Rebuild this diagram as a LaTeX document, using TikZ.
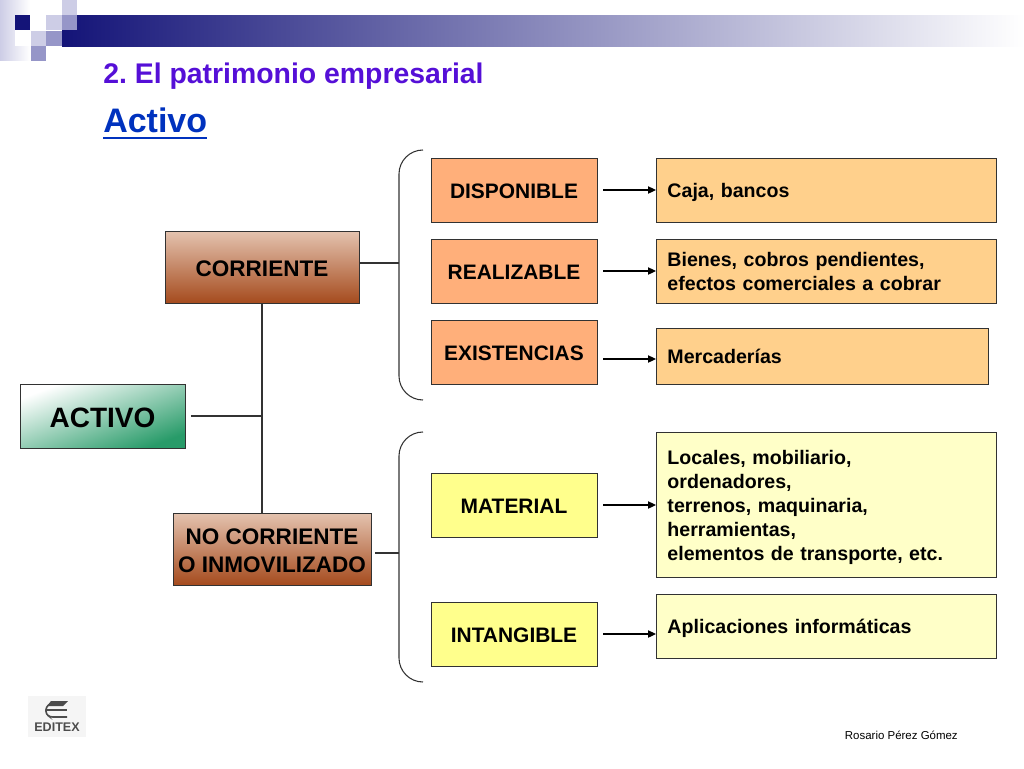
\documentclass[tikz,border=0pt]{standalone}
\usepackage{fontspec}
\setmainfont{Liberation Sans}
\usetikzlibrary{calc,arrows.meta}
\frenchspacing
\definecolor{bandnavy}{RGB}{20,20,120}
\definecolor{sqmid}{RGB}{150,150,200}
\definecolor{sqlight}{RGB}{205,205,230}
\definecolor{orangebox}{RGB}{255,175,122}
\definecolor{cajabox}{RGB}{255,208,140}
\definecolor{yellowbox}{RGB}{255,255,140}
\definecolor{paleyellow}{RGB}{255,255,200}
\definecolor{browntop}{RGB}{228,195,175}
\definecolor{brownbot}{RGB}{165,75,30}
\definecolor{activogreen}{RGB}{40,155,105}
\definecolor{linegray}{RGB}{50,50,50}
\definecolor{subtitlecol}{RGB}{85,15,215}
\definecolor{titlecol}{RGB}{0,50,190}
\newcommand{\linestrut}{\rule[-0.2em]{0pt}{1.2em}}
\newcommand{\lowertext}[1]{\raisebox{-3pt}[0.7em][0.2em]{#1}}
\tikzstyle{box}=[rectangle,draw=linegray,line width=0.7pt,inner sep=0pt,anchor=center,align=center,font=\fontsize{15.7}{21}\selectfont\bfseries,execute at begin node=\linestrut,execute at end node=\linestrut]
\tikzstyle{brownbox}=[box,top color=browntop,bottom color=brownbot,font=\fontsize{16.9}{21}\selectfont\bfseries]
\tikzstyle{textbox}=[box,inner xsep=11*0.75pt,anchor=west,align=left,text width=318*0.75pt,font=\fontsize{14.7}{18}\selectfont\bfseries]
\tikzstyle{link}=[draw=linegray,line width=0.8pt]
\tikzstyle{arrow}=[draw=black,line width=0.8pt,-{Triangle[length=6pt,width=5.5pt]},shorten <=4.5pt]
\tikzset{boxsize/.style 2 args={minimum width=#1*0.75pt, minimum height=#2*0.75pt}}
\begin{document}
\begin{tikzpicture}[x=0.75pt,y=-0.75pt]
	\useasboundingbox (0,0) rectangle (1024,768);

	% header band and squares
	\fill[left color=bandnavy, right color=white] (62,15) rectangle (1024,46);
	\fill[left color=sqlight, right color=white] (0,0) rectangle (30,60);
	\fill[white] (15,15) rectangle (46,46);
	\fill[bandnavy] (15,15) rectangle (30,30);
	\fill[sqlight] (62,0) rectangle (77,15);
	\fill[sqlight] (46,15) rectangle (62,30);
	\fill[sqmid] (62,15) rectangle (77,30);
	\fill[sqlight] (31,31) rectangle (46,46);
	\fill[sqmid] (46,31) rectangle (62,46);
	\fill[sqmid] (31,46) rectangle (46,61);

	\node[anchor=west,inner sep=0pt,text=subtitlecol,font=\fontsize{21.3}{25}\selectfont\bfseries] (subtitle) at (103,76) {2. El patrimonio empresarial};
	\node[anchor=base west,inner sep=0pt,text=titlecol,font=\fontsize{25.5}{30}\selectfont\bfseries] (title) at (103,132) {Activo};
	\draw[titlecol,line width=2pt] ([yshift=-4.1pt]title.south west) -- ([yshift=-4.1pt]title.south east);

	% left tree
	\node[box,boxsize={165}{64},font=\fontsize{21}{25}\selectfont\bfseries,left color=white,right color=activogreen,shading angle=21] (activo) at (102.5,416) {ACTIVO};
	\node[brownbox,boxsize={194}{72}] (corriente) at (262,267) {CORRIENTE};
	\node[brownbox,boxsize={198}{72}] (nocorriente) at (272,549) {\lowertext{NO CORRIENTE}\\\lowertext{O INMOVILIZADO}};

	% middle boxes
	\node[box,fill=orangebox,boxsize={166}{64}] (disponible) at (514,190) {DISPONIBLE};
	\node[box,fill=orangebox,boxsize={166}{64}] (realizable) at (514,271) {REALIZABLE};
	\node[box,fill=orangebox,boxsize={166}{64}] (existencias) at (514,352) {EXISTENCIAS};
	\node[box,fill=yellowbox,boxsize={166}{64}] (material) at (514,505) {MATERIAL};
	\node[box,fill=yellowbox,boxsize={166}{64}] (intangible) at (514,634) {INTANGIBLE};

	% right boxes
	\node[textbox,fill=cajabox,boxsize={340}{64}] (caja) at (656,190) {Caja, bancos};
	\node[textbox,fill=cajabox,boxsize={340}{64}] (bienes) at (656,271) {Bienes, cobros pendientes,\\efectos comerciales a cobrar};
	\node[textbox,fill=cajabox,boxsize={332}{56},text width=310*0.75pt] (mercaderias) at (656,356) {Mercaderías};
	\node[textbox,fill=paleyellow,boxsize={340}{145}] (locales) at (656,504.5) {Locales, mobiliario,\\ordenadores,\\terrenos, maquinaria,\\herramientas,\\elementos de transporte, etc.};
	\node[textbox,fill=paleyellow,boxsize={340}{64}] (aplicaciones) at (656,626) {Aplicaciones informáticas};

	\node[anchor=east,inner sep=0pt,font=\fontsize{8.6}{10}\selectfont] (autor) at (958,735) {Rosario Pérez Gómez};

	% logo
	\fill[black!4] (28,696) rectangle (86,737);
	\fill[black!70] (51,701) -- (68,701) -- (63,706) -- (47,706) -- cycle;
	\draw[black!70,line width=1.2pt,rounded corners=2pt] (50,704) -- (46,707) -- (46,714) -- (50,717) -- (67,717);
	\draw[black!70,line width=1.2pt] (47,710) -- (67,710);
	\node[inner sep=0pt,text=black!70,font=\fontsize{9.4}{10}\selectfont\bfseries] (logo) at (57,727) {EDITEX};

	% brackets
	\coordinate (bracket1top) at (423,150);
	\coordinate (bracket1bot) at (423,400);
	\coordinate (bracket2top) at (423,432);
	\coordinate (bracket2bot) at (423,682);
	\draw[link,rounded corners=18pt] (bracket1top) -| (399,275) |- (bracket1bot);
	\draw[link,rounded corners=18pt] (bracket2top) -| (399,557) |- (bracket2bot);

	% tree links
	\coordinate (trunkjoin) at (262,416);
	\draw[link] (corriente.south) -- (corriente.south |- nocorriente.north);
	\draw[link,shorten <=4pt] (activo.east) -- (trunkjoin);
	\draw[link] (corriente.east |- 0,263) -- (399,263);
	\draw[link,shorten <=3pt] (nocorriente.east |- 0,553) -- (399,553);

	\foreach \from/\to in {disponible/caja,realizable/bienes,material/locales,intangible/aplicaciones}
		\draw[arrow] (\from.east) -- (\from.east -| \to.west);
	\draw[arrow] (existencias.east |- 0,359) -- (mercaderias.west |- 0,359);
\end{tikzpicture}
\end{document}
